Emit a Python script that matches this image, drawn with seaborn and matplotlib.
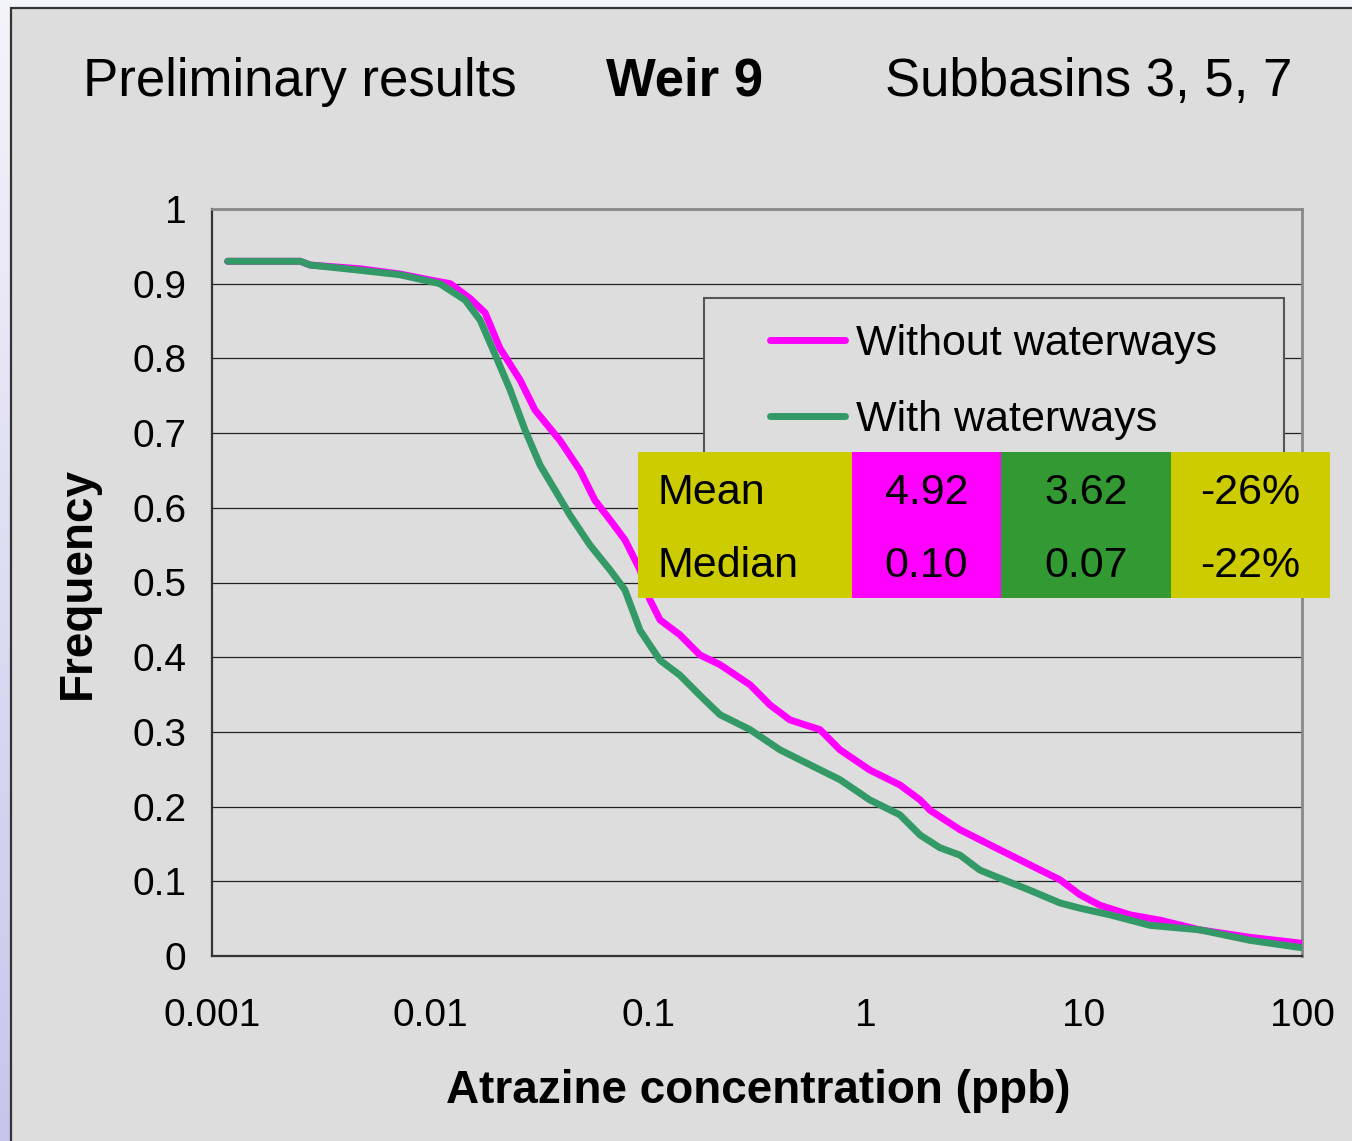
import numpy as np
import pandas as pd
import seaborn as sns
import matplotlib.pyplot as plt
from matplotlib.patches import Rectangle
from matplotlib.colors import LinearSegmentedColormap
from matplotlib.ticker import NullLocator
from matplotlib.transforms import IdentityTransform, ScaledTranslation

# exceedance curves (concentration in ppb, frequency)
conc_without = [0.00118, 0.00254, 0.00282, 0.00477, 0.00728, 0.0100, 0.0124, 0.0153,
                0.0179, 0.0209, 0.0259, 0.0303, 0.0395, 0.0488, 0.0571, 0.0669,
                0.0784, 0.0919, 0.102, 0.1135, 0.140, 0.173, 0.214, 0.294, 0.363,
                0.448, 0.615, 0.760, 1.04, 1.43, 1.77, 1.97, 2.70, 4.12, 5.65,
                7.76, 9.59, 11.8, 16.3, 22.3, 34.0, 57.7, 100]
freq_without = [0.930, 0.930, 0.925, 0.920, 0.913, 0.905, 0.900, 0.880, 0.861, 0.814,
                0.771, 0.731, 0.690, 0.650, 0.610, 0.584, 0.557, 0.517, 0.477, 0.450,
                0.430, 0.403, 0.390, 0.363, 0.336, 0.316, 0.303, 0.276, 0.249, 0.229,
                0.209, 0.195, 0.169, 0.142, 0.122, 0.102, 0.082, 0.068, 0.055, 0.048,
                0.035, 0.025, 0.017]

conc_with = [0.00118, 0.00254, 0.00282, 0.00477, 0.00728, 0.0111, 0.0145, 0.0170,
             0.0199, 0.0233, 0.0273, 0.0320, 0.0374, 0.0439, 0.0542, 0.0669, 0.0784,
             0.0919, 0.1135, 0.140, 0.173, 0.214, 0.294, 0.403, 0.553, 0.760, 1.04,
             1.43, 1.77, 2.18, 2.70, 3.33, 4.12, 5.65, 7.76, 9.59, 13.2, 20.1, 34.0,
             57.7, 100]
freq_with = [0.930, 0.930, 0.925, 0.918, 0.912, 0.900, 0.878, 0.851, 0.805, 0.758,
             0.704, 0.657, 0.624, 0.590, 0.550, 0.517, 0.490, 0.436, 0.396, 0.376,
             0.349, 0.323, 0.303, 0.276, 0.256, 0.236, 0.209, 0.189, 0.162, 0.145,
             0.135, 0.115, 0.104, 0.088, 0.071, 0.064, 0.055, 0.041, 0.035, 0.021,
             0.011]

series_names = ['Without waterways', 'With waterways']
series_colors = ['#ff00ff', '#339966']

stat_rows = ['Mean', 'Median']
stat_without = ['4.92', '0.10']
stat_with = ['3.62', '0.07']
stat_change = ['-26%', '-22%']
stat_colors = ['#cccc00', '#ff00ff', '#339933', '#cccc00']

x_ticks = [0.001, 0.01, 0.1, 1, 10, 100]
x_tick_labels = ['0.001', '0.01', '0.1', '1', '10', '100']
y_ticks = np.round(np.arange(0, 1.01, 0.1), 1)
y_tick_labels = ['0'] + [f'{v:g}' for v in y_ticks[1:]]

sns.set_style('white')
plt.rcParams['font.family'] = ['Liberation Sans', 'DejaVu Sans']
plt.rcParams['text.color'] = 'black'
plt.rcParams['axes.labelcolor'] = 'black'

W, H = 1352, 1141
fig = plt.figure(figsize=(W / 100, H / 100), dpi=100)

# slide background + grey panel
bg = fig.add_axes([0, 0, 1, 1], zorder=-3)
grad = np.linspace(0, 1, 256).reshape(-1, 1)
bg.imshow(grad, aspect='auto', extent=[0, 1, 0, 1], origin='lower',
          cmap=LinearSegmentedColormap.from_list('bg', ['#c6c6ec', '#f4f4fb']))
bg.axis('off')
fig.add_artist(Rectangle((11 / W, -0.01), 1.0, 1 - 8 / H + 0.01, transform=fig.transFigure,
                         facecolor='#dddddd', edgecolor='#333333', lw=1.6, zorder=-2))

ax = fig.add_axes([212 / W, 1 - 956 / H, 1090 / W, 747 / H])
ax.set_facecolor('#dddddd')

df_without = pd.DataFrame({'conc': conc_without, 'freq': freq_without})
df_with = pd.DataFrame({'conc': conc_with, 'freq': freq_with})
sns.lineplot(data=df_without, x='conc', y='freq', ax=ax, color=series_colors[0],
             lw=5, label=series_names[0], zorder=3)
sns.lineplot(data=df_with, x='conc', y='freq', ax=ax, color=series_colors[1],
             lw=5, label=series_names[1], zorder=3)

ax.set_xscale('log')
ax.set_xlim(0.001, 100)
ax.set_ylim(0, 1)
ax.set_xticks(x_ticks)
ax.set_xticklabels(x_tick_labels)
ax.xaxis.set_minor_locator(NullLocator())
ax.set_yticks(y_ticks)
ax.set_yticklabels(y_tick_labels)

ax.set_axisbelow(True)
ax.yaxis.grid(True, color='#222222', lw=0.9)
ax.xaxis.grid(False)

ax.tick_params(axis='both', direction='out', length=8.6, width=1.2, color='#333333',
               labelsize=28, labelcolor='black')
ax.tick_params(axis='y', pad=10)
ax.tick_params(axis='x', pad=22)

for side in ['left', 'bottom']:
    ax.spines[side].set_color('#333333')
    ax.spines[side].set_linewidth(1.6)
for side in ['top', 'right']:
    ax.spines[side].set_color('#888888')
    ax.spines[side].set_linewidth(2)

ax.set_xlabel('Atrazine concentration (ppb)', fontsize=33, fontweight='bold')
ax.set_ylabel('Frequency', fontsize=33, fontweight='bold')
ax.xaxis.set_label_coords(0.501, -0.181)
ax.yaxis.set_label_coords(-0.123, 0.499)
ax.xaxis.label.set_va('center')
ax.yaxis.label.set_va('center')

# legend box drawn by hand, partly hidden behind the stats table
ax.add_artist(Rectangle((704 / W, 1 - 480 / H), (1284 - 704) / W, (480 - 298) / H,
                        transform=fig.transFigure, facecolor='#dddddd',
                        edgecolor='#555555', lw=1.5, zorder=4, clip_on=False))
leg = ax.legend(loc='center left', bbox_to_anchor=(770 / W, 1 - 382 / H),
                bbox_transform=fig.transFigure, frameon=False, fontsize=31,
                handlelength=1.75, handletextpad=0.25, labelspacing=0.82,
                borderpad=0, borderaxespad=0)
leg.set_zorder(6)

# titles
fig.text(83 / W, 1 - 82 / H, 'Preliminary results', fontsize=38, ha='left', va='center')
fig.text(685 / W, 1 - 82 / H, 'Weir 9', fontsize=38, fontweight='bold', ha='center', va='center')
fig.text(1292 / W, 1 - 82 / H, 'Subbasins 3, 5, 7', fontsize=38, ha='right', va='center')

# stats table
tab = fig.add_axes([638 / W, 1 - 598 / H, 692 / W, 146 / H])
tab.axis('off')
cell_text = [[stat_rows[i], stat_without[i], stat_with[i], stat_change[i]] for i in range(2)]
cell_colors = [stat_colors, stat_colors]
col_w = np.array([214, 149, 170, 159]) / 692
tbl = tab.table(cellText=cell_text, cellColours=cell_colors, colWidths=col_w,
                bbox=[0, 0, 1, 1], cellLoc='center')
tbl.auto_set_font_size(False)
tbl.set_fontsize(31)
nudge = IdentityTransform() + ScaledTranslation(0, -5 / 100, fig.dpi_scale_trans)
for (r, c), cell in tbl.get_celld().items():
    cell.set_linewidth(0)
    cell.set_edgecolor(cell.get_facecolor())
    cell.get_text().set_color('black')
    cell.get_text().set_transform(nudge)
    if c == 0:
        cell._loc = 'left'
        cell.PAD = 0.09
        cell.get_text().set_horizontalalignment('left')

fig.savefig('out.png', dpi=100)
